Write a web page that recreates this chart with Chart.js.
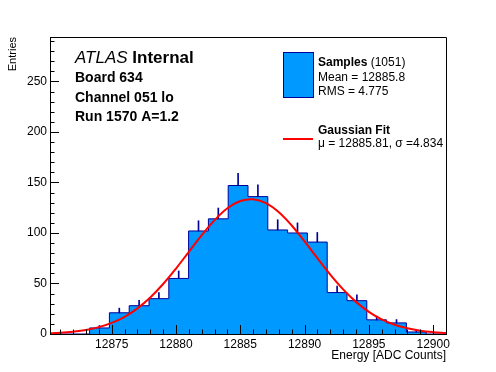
<!DOCTYPE html>
<html>
<head>
    <meta charset="utf-8">
    <title>Board 634 Energy</title>
    <script src="https://cdn.jsdelivr.net/npm/chart.js"></script>
    <style>
        body {
            margin: 0;
            background: #fff;
        }

        #wrap {
            width: 496px;
            height: 372px;
        }
    </style>
</head>
<body>
    <div id="wrap">
        <canvas id="histChart" width="496" height="372"></canvas>
    </div>

    <script>
        // histogram binning + contents
        const histMin = 12870.2;
        const binWidth = 1.54;
        const counts = [0, 0, 6, 21, 28, 35, 55, 102, 114, 147, 136, 103, 100, 91, 41, 33, 14, 11, 2, 0];
        const errors = [0, 0, 2.4, 4.6, 5.3, 5.9, 7.4, 10.1, 10.7, 12.1, 11.7, 10.1, 10, 9.5, 6.4, 5.7, 3.7, 3.3, 1.4, 0];

        // gaussian fit curve, sampled along the red line
        const fitX = [12870, 12871, 12872, 12873, 12874, 12875, 12876, 12877, 12878, 12879, 12880,
            12881, 12882, 12883, 12884, 12885, 12886, 12887, 12888, 12889, 12890,
            12891, 12892, 12893, 12894, 12895, 12896, 12897, 12898, 12899, 12900, 12901];
        const fitY = [0.6, 1.2, 2.3, 4.0, 6.8, 11.0, 17.0, 25.4, 36.2, 49.5, 64.8,
            81.4, 97.9, 112.7, 124.5, 131.6, 133.4, 129.5, 120.5, 107.4, 91.7,
            75.0, 58.8, 44.2, 31.8, 21.9, 14.5, 9.2, 5.6, 3.2, 1.8, 1.0];

        const xTickValues = [12875, 12880, 12885, 12890, 12895, 12900];
        const yTickValues = [0, 50, 100, 150, 200, 250];
        const yMax = 294;

        const fillBlue = 'rgb(0,153,255)';
        const lineBlue = 'rgb(0,0,153)';
        const fontFam = '"Liberation Sans", Arial, sans-serif';

        const histMax = histMin + counts.length * binWidth;

        // stepped outline points at the bin edges
        const histPoints = counts.map((c, i) => ({ x: histMin + i * binWidth, y: c }));
        histPoints.push({ x: histMax, y: counts[counts.length - 1] });

        const errPoints = counts
            .map((c, i) => ({ x: histMin + (i + 0.5) * binWidth, y: [c, c + errors[i]] }))
            .filter(p => p.y[1] > p.y[0]);

        const fitPoints = fitX.map((x, i) => ({ x: x, y: fitY[i] }));

        // ROOT style frame with ticks inside the pad + the text boxes
        const rootPad = {
            id: 'rootPad',
            afterDatasetsDraw(chart) {
                const ctx = chart.ctx;
                const a = chart.chartArea;
                const xs = chart.scales.x;
                const ys = chart.scales.y;
                ctx.save();
                ctx.strokeStyle = '#000';
                ctx.lineWidth = 1;
                ctx.beginPath();
                for (let v = Math.ceil(xs.min); v <= xs.max; v++) {
                    const px = Math.round(xs.getPixelForValue(v)) + 0.5;
                    const len = v % 5 === 0 ? 9 : 4.5;
                    ctx.moveTo(px, a.bottom);
                    ctx.lineTo(px, a.bottom - len);
                }
                for (let v = 0; v <= ys.max; v += 10) {
                    const py = Math.round(ys.getPixelForValue(v)) + 0.5;
                    const len = v % 50 === 0 ? 9 : 4.5;
                    ctx.moveTo(a.left, py);
                    ctx.lineTo(a.left + len, py);
                }
                // frame
                ctx.moveTo(Math.round(a.left) + 0.5, Math.round(a.top) + 0.5);
                ctx.lineTo(Math.round(a.right) + 0.5, Math.round(a.top) + 0.5);
                ctx.lineTo(Math.round(a.right) + 0.5, Math.round(a.bottom) + 0.5);
                ctx.lineTo(Math.round(a.left) + 0.5, Math.round(a.bottom) + 0.5);
                ctx.closePath();
                ctx.stroke();
                ctx.restore();
            },
            afterDraw(chart) {
                const ctx = chart.ctx;
                ctx.save();
                ctx.fillStyle = '#000';
                ctx.textBaseline = 'alphabetic';

                // ATLAS label
                ctx.font = 'italic 17px ' + fontFam;
                ctx.fillText('ATLAS', 75, 63);
                const w = ctx.measureText('ATLAS ').width;
                ctx.font = 'bold 17px ' + fontFam;
                ctx.fillText('Internal', 75 + w, 63);

                ctx.font = 'bold 14px ' + fontFam;
                ctx.fillText('Board 634', 75, 82);
                ctx.fillText('Channel 051 lo', 75, 102);
                ctx.fillText('Run 1570 A=1.2', 75, 121);

                // legend
                ctx.fillStyle = fillBlue;
                ctx.fillRect(283, 52, 30, 45);
                ctx.strokeStyle = lineBlue;
                ctx.lineWidth = 1;
                ctx.strokeRect(283.5, 52.5, 30, 45);

                ctx.fillStyle = '#000';
                ctx.font = 'bold 12px ' + fontFam;
                ctx.fillText('Samples', 318, 66);
                const ws = ctx.measureText('Samples ').width;
                ctx.font = '12px ' + fontFam;
                ctx.fillText('(1051)', 318 + ws, 66);
                ctx.fillText('Mean = 12885.8', 318, 81);
                ctx.fillText('RMS = 4.775', 318, 95);

                ctx.strokeStyle = 'red';
                ctx.lineWidth = 2;
                ctx.beginPath();
                ctx.moveTo(283, 139);
                ctx.lineTo(313, 139);
                ctx.stroke();

                ctx.font = 'bold 12px ' + fontFam;
                ctx.fillText('Gaussian Fit', 318, 134);
                ctx.font = '12px ' + fontFam;
                ctx.fillText('\u03bc = 12885.81, \u03c3 =4.834', 318, 147);
                ctx.restore();
            }
        };

        const chart = new Chart(document.getElementById('histChart'), {
            type: 'line',
            data: {
                datasets: [{
                    label: 'Gaussian Fit',
                    data: fitPoints,
                    borderColor: 'red',
                    borderWidth: 2,
                    pointRadius: 0,
                    tension: 0.4,
                    fill: false,
                    order: 0
                }, {
                    type: 'bar',
                    label: 'errors',
                    data: errPoints,
                    backgroundColor: lineBlue,
                    borderWidth: 0,
                    barThickness: 1,
                    grouped: false,
                    order: 1
                }, {
                    label: 'Samples',
                    data: histPoints,
                    stepped: true,
                    borderColor: lineBlue,
                    borderWidth: 1,
                    backgroundColor: fillBlue,
                    fill: 'origin',
                    pointRadius: 0,
                    order: 2
                }]
            },
            options: {
                responsive: false,
                animation: false,
                events: [],
                layout: {
                    padding: { top: 37, right: 50, left: 0, bottom: 0 }
                },
                plugins: {
                    legend: { display: false },
                    tooltip: { enabled: false }
                },
                scales: {
                    x: {
                        type: 'linear',
                        offset: false,
                        min: histMin,
                        max: histMax,
                        afterBuildTicks: s => { s.ticks = xTickValues.map(v => ({ value: v })); },
                        afterFit: s => { s.height = 38; },
                        grid: { display: false, drawTicks: false, offset: false },
                        border: { display: true, color: '#000', width: 1 },
                        ticks: {
                            autoSkip: false,
                            maxRotation: 0,
                            padding: 3,
                            color: '#000',
                            font: { family: fontFam, size: 12 },
                            callback: v => String(v)
                        },
                        title: {
                            display: true,
                            text: 'Energy [ADC Counts]',
                            align: 'end',
                            color: '#000',
                            font: { family: fontFam, size: 12 },
                            padding: { top: 0, bottom: 9 }
                        }
                    },
                    y: {
                        min: 0,
                        max: yMax,
                        afterBuildTicks: s => { s.ticks = yTickValues.map(v => ({ value: v })); },
                        afterFit: s => { s.width = 50; },
                        grid: { display: false, drawTicks: false },
                        border: { display: true, color: '#000', width: 1 },
                        ticks: {
                            padding: 3,
                            color: '#000',
                            font: { family: fontFam, size: 12 },
                            callback: v => String(v)
                        },
                        title: {
                            display: true,
                            text: 'Entries',
                            align: 'end',
                            color: '#000',
                            font: { family: fontFam, size: 11 },
                            padding: { top: 6, bottom: 0 }
                        }
                    }
                }
            },
            plugins: [rootPad]
        });
    </script>
</body>
</html>
